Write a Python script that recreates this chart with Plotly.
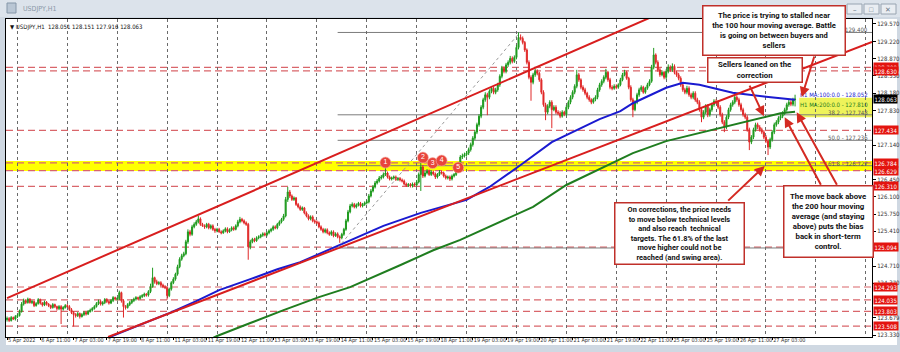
import plotly.graph_objects as go

# ---------------- DATA ----------------
open0 = 123.64
closes = [
    123.66, 123.62, 123.68, 123.65, 123.70,
    123.72, 123.80, 123.95, 124.02, 123.98, 124.05, 123.98, 124.00, 123.92, 123.96, 124.04, 123.97, 123.93, 123.99, 123.95, 123.92, 123.88, 123.94, 123.90, 123.86, 123.90, 123.85, 123.88, 123.92,
    123.90, 123.84, 123.78, 123.74, 123.72, 123.76, 123.70, 123.74, 123.78, 123.75, 123.80, 123.83, 123.86, 123.90, 123.96, 124.00, 123.95, 123.98, 124.04, 124.00, 123.97, 124.02, 124.08, 124.05,
    124.06, 124.18, 124.02, 123.90, 123.88, 123.94, 123.98, 124.02, 124.05, 124.08, 124.06, 124.10, 124.12, 124.15, 124.13, 124.20, 124.30, 124.48, 124.40, 124.36, 124.38, 124.33, 124.30, 124.28,
    124.12, 124.25, 124.38, 124.45, 124.55, 124.70, 124.85, 124.92, 124.96, 125.20, 125.40, 125.35, 125.50, 125.55, 125.60, 125.66, 125.55, 125.52, 125.50, 125.55, 125.48, 125.52, 125.45, 125.42,
    125.45, 125.40, 125.38, 125.42, 125.46, 125.40, 125.44, 125.48, 125.45, 125.52, 125.60, 125.65, 125.62, 125.58, 125.55, 125.10, 125.20, 125.25, 125.22, 125.28, 125.30, 125.33, 125.36, 125.34,
    125.38, 125.42, 125.45, 125.50, 125.48, 125.55, 125.60, 125.65, 125.72, 126.05, 126.20, 126.12, 126.05, 126.08, 125.95, 125.90, 125.85, 125.88, 125.78, 125.72, 125.66, 125.70, 125.62, 125.60,
    125.58, 125.50, 125.45, 125.40, 125.44, 125.38, 125.35, 125.40, 125.32, 125.36, 125.30, 125.28, 125.35, 125.45, 125.62, 125.80, 125.92, 125.95, 125.90, 125.94, 125.97, 125.92, 125.95, 125.98,
    126.00, 126.12, 126.22, 126.30, 126.38, 126.42, 126.48, 126.50, 126.55, 126.58, 126.50, 126.46, 126.48, 126.50, 126.45, 126.47, 126.44, 126.42, 126.36, 126.33, 126.35, 126.32, 126.36, 126.34,
    126.40, 126.55, 126.70, 126.52, 126.58, 126.62, 126.55, 126.60, 126.56, 126.50, 126.55, 126.60, 126.58, 126.52, 126.48, 126.50, 126.46, 126.52, 126.55, 126.62, 126.72, 126.90, 126.92, 126.95,
    126.98, 127.05, 127.15, 127.28, 127.40, 127.55, 127.72, 127.90, 128.05, 128.15, 128.10, 128.22, 128.28, 128.20, 128.25, 128.35, 128.52, 128.68, 128.62, 128.75, 128.80, 128.88, 128.82, 128.90,
    129.10, 129.30, 129.28, 129.20, 129.05, 128.80, 128.50, 128.40, 128.55, 128.62, 128.58, 128.45, 128.20, 127.95, 127.80, 127.92, 128.00, 127.85, 127.90, 127.80, 127.78, 127.72, 127.80, 127.76,
    127.90, 128.00, 128.10, 128.20, 128.32, 128.55, 128.45, 128.30, 128.25, 128.18, 128.10, 128.05, 128.00, 128.06, 128.10, 128.25, 128.35, 128.42, 128.50, 128.60, 128.45, 128.30, 128.28, 128.32,
    128.30, 128.35, 128.45, 128.55, 128.60, 128.48, 128.30, 128.05, 127.85, 128.00, 128.15, 128.25, 128.30, 128.20, 128.28, 128.35, 128.42, 128.70, 128.95, 128.80, 128.65, 128.55, 128.60, 128.50,
    128.62, 128.70, 128.65, 128.72, 128.60, 128.55, 128.48, 128.35, 128.25, 128.20, 128.28, 128.15, 128.10, 128.18, 128.05, 128.00, 127.85, 127.70, 127.80, 127.92, 127.75, 127.85, 127.95, 128.02,
    128.00, 127.90, 127.75, 127.60, 127.50, 127.70, 127.85, 127.95, 128.00, 128.10, 128.05, 127.95, 127.85, 127.75, 127.70, 127.45, 127.20, 127.30, 127.45, 127.55, 127.50, 127.45, 127.40, 127.30,
    127.22, 127.10, 127.25, 127.40, 127.55, 127.60, 127.68, 127.72, 127.78, 127.85, 127.95, 128.00, 127.96, 128.051, 128.063,
]
highs = [
    123.70, 123.69, 123.71, 123.70, 123.73,
    123.75, 123.84, 123.99, 124.06, 124.05, 124.08, 124.07, 124.03, 124.02, 123.99, 124.07, 124.06, 123.99, 124.02, 124.01, 123.97, 123.94, 123.97, 123.96, 123.92, 123.93, 123.93, 123.91, 123.95,
    123.95, 123.93, 123.87, 123.81, 123.77, 123.79, 123.78, 123.77, 123.81, 123.80, 123.83, 123.86, 123.89, 123.93, 123.99, 124.04, 124.03, 124.01, 124.07, 124.07, 124.03, 124.05, 124.11, 124.10,
    124.09, 124.22, 124.20, 124.05, 123.93, 123.97, 124.01, 124.05, 124.08, 124.11, 124.10, 124.13, 124.15, 124.18, 124.17, 124.23, 124.36, 124.68, 124.50, 124.44, 124.41, 124.41, 124.36, 124.33,
    124.31, 124.28, 124.41, 124.49, 124.58, 124.74, 124.89, 124.96, 125.00, 125.24, 125.45, 125.44, 125.54, 125.59, 125.64, 125.72, 125.69, 125.58, 125.55, 125.58, 125.58, 125.55, 125.55, 125.48,
    125.48, 125.48, 125.43, 125.45, 125.49, 125.49, 125.47, 125.51, 125.51, 125.55, 125.64, 125.70, 125.68, 125.65, 125.61, 125.58, 125.24, 125.28, 125.28, 125.31, 125.33, 125.36, 125.39, 125.39,
    125.41, 125.45, 125.48, 125.53, 125.53, 125.58, 125.63, 125.68, 125.76, 126.10, 126.30, 126.24, 126.15, 126.11, 126.10, 125.98, 125.93, 125.91, 125.90, 125.81, 125.75, 125.73, 125.73, 125.65,
    125.63, 125.61, 125.53, 125.48, 125.47, 125.47, 125.41, 125.43, 125.43, 125.39, 125.39, 125.33, 125.38, 125.48, 125.66, 125.84, 125.96, 125.99, 125.98, 125.97, 126.00, 126.00, 125.98, 126.01,
    126.04, 126.16, 126.26, 126.34, 126.42, 126.46, 126.52, 126.54, 126.59, 126.68, 126.61, 126.53, 126.51, 126.53, 126.53, 126.50, 126.50, 126.47, 126.45, 126.39, 126.38, 126.38, 126.39, 126.39,
    126.44, 126.59, 126.86, 126.74, 126.62, 126.66, 126.65, 126.64, 126.63, 126.59, 126.58, 126.64, 126.63, 126.61, 126.55, 126.53, 126.53, 126.55, 126.58, 126.65, 126.76, 126.94, 126.97, 126.99,
    127.02, 127.09, 127.19, 127.32, 127.44, 127.59, 127.76, 127.94, 128.09, 128.20, 128.19, 128.26, 128.32, 128.31, 128.29, 128.39, 128.56, 128.73, 128.72, 128.79, 128.84, 128.93, 128.92, 128.94,
    129.15, 129.40, 129.36, 129.32, 129.23, 129.08, 128.84, 128.54, 128.59, 128.67, 128.66, 128.61, 128.48, 128.24, 127.99, 127.96, 128.04, 128.04, 127.94, 127.94, 127.84, 127.82, 127.84, 127.83,
    127.94, 128.04, 128.14, 128.24, 128.36, 128.65, 128.59, 128.48, 128.34, 128.29, 128.21, 128.14, 128.08, 128.09, 128.14, 128.29, 128.39, 128.46, 128.54, 128.67, 128.63, 128.49, 128.34, 128.36,
    128.36, 128.38, 128.49, 128.59, 128.65, 128.63, 128.51, 128.34, 128.09, 128.04, 128.19, 128.29, 128.34, 128.33, 128.31, 128.39, 128.46, 128.75, 129.09, 128.98, 128.84, 128.69, 128.64, 128.63,
    128.66, 128.76, 128.74, 128.78, 128.76, 128.64, 128.59, 128.52, 128.39, 128.29, 128.33, 128.32, 128.19, 128.22, 128.22, 128.09, 128.04, 127.89, 127.84, 127.96, 127.96, 127.89, 127.99, 128.06,
    128.06, 128.04, 127.94, 127.79, 127.64, 127.74, 127.89, 127.99, 128.04, 128.15, 128.14, 128.09, 127.99, 127.89, 127.79, 127.74, 127.49, 127.34, 127.49, 127.59, 127.59, 127.54, 127.49, 127.44,
    127.34, 127.26, 127.29, 127.44, 127.59, 127.64, 127.72, 127.76, 127.82, 127.89, 127.99, 128.05, 128.04, 128.09, 128.151,
]
lows = [
    123.60, 123.59, 123.60, 123.63, 123.62,
    123.67, 123.70, 123.78, 123.92, 123.95, 123.96, 123.96, 123.95, 123.89, 123.90, 123.94, 123.94, 123.90, 123.91, 123.92, 123.89, 123.85, 123.86, 123.87, 123.82, 123.83, 123.55, 123.82, 123.86,
    123.88, 123.81, 123.75, 123.50, 123.68, 123.69, 123.66, 123.68, 123.71, 123.72, 123.73, 123.78, 123.80, 123.84, 123.88, 123.93, 123.92, 123.92, 123.95, 123.97, 123.94, 123.95, 123.99, 124.02,
    124.02, 124.03, 123.98, 123.68, 123.84, 123.86, 123.91, 123.95, 123.99, 124.02, 124.03, 124.04, 124.07, 124.09, 124.10, 124.10, 124.17, 124.28, 124.36, 124.33, 124.33, 124.30, 124.27, 124.25,
    124.04, 124.09, 124.22, 124.35, 124.42, 124.52, 124.67, 124.82, 124.89, 124.93, 125.16, 125.31, 125.32, 125.47, 125.52, 125.57, 125.52, 125.50, 125.46, 125.47, 125.45, 125.45, 125.42, 125.38,
    125.39, 125.38, 125.35, 125.36, 125.39, 125.37, 125.38, 125.41, 125.42, 125.43, 125.49, 125.57, 125.59, 125.55, 125.52, 124.84, 125.05, 125.17, 125.19, 125.20, 125.25, 125.27, 125.30, 125.31,
    125.31, 125.35, 125.39, 125.42, 125.45, 125.45, 125.52, 125.57, 125.62, 125.69, 126.00, 126.08, 126.02, 126.02, 125.92, 125.87, 125.82, 125.82, 125.75, 125.69, 125.63, 125.63, 125.59, 125.56,
    125.55, 125.47, 125.42, 125.37, 125.37, 125.35, 125.32, 125.32, 125.29, 125.30, 125.27, 125.18, 125.25, 125.32, 125.42, 125.59, 125.77, 125.89, 125.87, 125.87, 125.91, 125.89, 125.89, 125.92,
    125.95, 125.97, 126.09, 126.19, 126.27, 126.35, 126.39, 126.45, 126.47, 126.52, 126.47, 126.43, 126.43, 126.45, 126.42, 126.42, 126.41, 126.39, 126.33, 126.30, 126.30, 126.29, 126.29, 126.31,
    126.31, 126.37, 126.22, 126.48, 126.49, 126.55, 126.52, 126.52, 126.53, 126.46, 126.47, 126.52, 126.55, 126.49, 126.45, 126.45, 126.42, 126.43, 126.49, 126.52, 126.59, 126.69, 126.86, 126.89,
    126.91, 126.94, 127.01, 127.11, 127.24, 127.36, 127.51, 127.68, 127.86, 128.01, 127.74, 128.06, 128.18, 128.16, 128.16, 128.21, 128.31, 128.48, 128.58, 128.58, 128.71, 128.76, 128.78, 128.79,
    128.86, 129.06, 129.24, 129.16, 129.01, 128.76, 128.46, 128.03, 128.36, 128.51, 128.54, 128.41, 128.16, 127.91, 127.64, 127.76, 127.88, 127.48, 127.82, 127.76, 127.74, 127.68, 127.69, 127.72,
    127.72, 127.86, 127.96, 128.06, 128.16, 128.28, 128.41, 128.26, 128.21, 128.14, 128.06, 128.01, 127.96, 127.97, 128.02, 128.06, 128.21, 128.31, 128.38, 128.46, 128.41, 128.26, 128.24, 128.25,
    128.26, 128.27, 128.32, 128.42, 128.52, 128.45, 128.26, 128.01, 127.70, 127.82, 127.96, 128.11, 128.21, 128.17, 128.17, 128.25, 128.32, 128.39, 128.66, 128.76, 128.61, 128.51, 128.52, 128.46,
    128.46, 128.58, 128.61, 128.61, 128.56, 128.51, 128.44, 128.31, 128.21, 128.16, 128.16, 128.11, 128.06, 128.06, 128.01, 127.96, 127.81, 127.60, 127.66, 127.76, 127.70, 127.71, 127.81, 127.91,
    127.96, 127.86, 127.71, 127.56, 127.40, 127.46, 127.66, 127.81, 127.91, 127.96, 128.01, 127.91, 127.81, 127.71, 127.66, 127.41, 127.04, 127.16, 127.26, 127.41, 127.46, 127.41, 127.36, 127.26,
    127.18, 126.94, 127.06, 127.21, 127.36, 127.51, 127.56, 127.64, 127.68, 127.74, 127.81, 127.91, 127.92, 127.92, 127.916,
]

time_tick_idx = [0, 16, 32, 48, 64, 80, 96, 112, 128, 144, 160, 176, 192, 208, 224, 240,
                 256, 272, 288, 304, 320, 336, 352, 368]
time_tick_text = ["5 Apr 2022", "6 Apr 11:00", "7 Apr 03:00", "7 Apr 19:00", "8 Apr 11:00",
                  "11 Apr 03:00", "11 Apr 19:00", "12 Apr 11:00", "13 Apr 03:00", "13 Apr 19:00",
                  "14 Apr 11:00", "15 Apr 03:00", "15 Apr 19:00", "18 Apr 11:00", "19 Apr 03:00",
                  "19 Apr 19:00", "20 Apr 11:00", "21 Apr 03:00", "21 Apr 19:00", "22 Apr 11:00",
                  "25 Apr 03:00", "25 Apr 19:00", "26 Apr 11:00", "27 Apr 03:00"]
day_start_idx = [5, 29, 53, 77, 101, 125, 149, 173, 197, 221, 245, 269, 293, 317, 341, 365, 389, 413]
price_ticks = [129.570, 129.220, 128.870, 128.530, 128.180, 127.830, 127.140, 126.450,
               126.100, 125.750, 125.410, 124.710, 124.370, 123.679, 123.330]

ma100_idx = [50, 64, 78, 91, 102, 117, 130, 141, 157, 170, 181, 199, 213, 221, 232, 247, 262,
             279, 285, 295, 301, 317, 325, 333, 349, 365, 379]
ma100_val = [123.30, 123.53, 123.77, 124.01, 124.23, 124.45, 124.65, 124.79, 125.08, 125.32,
             125.52, 125.78, 125.94, 126.04, 126.30, 126.74, 127.20, 127.54, 127.66, 127.82,
             127.98, 128.29, 128.39, 128.35, 128.19, 128.11, 128.052]
ma200_idx = [95, 101, 117, 133, 150, 165, 189, 205, 218, 237, 253, 269, 285, 301, 317, 333,
             349, 362, 372, 379]
ma200_val = [123.19, 123.31, 123.57, 123.83, 124.09, 124.29, 124.73, 125.03, 125.24, 125.60,
             125.90, 126.34, 126.66, 126.98, 127.22, 127.38, 127.54, 127.68, 127.78, 127.81]

upper_channel_idx = [0, 310]
upper_channel_val = [124.07, 129.71]
lower_channel_idx = [48.6, 416]
lower_channel_val = [123.29, 129.21]

red_levels = [128.700, 128.630, 127.434, 126.784, 126.629, 126.310, 125.094,
              124.293, 124.035, 123.803, 123.508]
fib_names = ["0.0", "38.2", "50.0", "61.8", "100.0"]
fib_levels = [129.400, 127.748, 127.236, 126.727, 125.076]
fib_start_idx = 159
fib_swing_idx = [159, 246.6]
fib_swing_val = [125.076, 129.400]

swing_band = [126.62, 126.82]
ma_zone_idx = [381, 416]
ma_zone_val = [127.70, 128.09]

touch_idx = [182, 200, 204.7, 209, 217]
touch_val = [126.79, 126.89, 126.78, 126.83, 126.69]
touch_lbl = ["1", "2", "3", "4", "5"]

last_price = 128.063
ma100_last = 128.052
ma200_last = 127.810
ohlc_text = "128.051 128.151 127.916 128.063"

# ---------------- derived ----------------
bar_idx = list(range(len(closes)))
opens = [open0] + closes[:-1]
highs = [max(h, o, c) for h, o, c in zip(highs, opens, closes)]
lows = [min(l, o, c) for l, o, c in zip(lows, opens, closes)]

# layout geometry (pixels)
W, H = 900, 352
L, R, T, B = 6, 872, 19, 337
def PX(x): return (x - L) / (R - L)
def PY(y): return (B - y) / (B - T)

FONT_AX = "Liberation Sans Narrow, DejaVu Sans Condensed, Arial Narrow, Liberation Sans, sans-serif"
FONT_BOLD = "Roboto, Liberation Sans, Arial, sans-serif"
RED = "#d42a22"

fig = go.Figure()

fig.add_trace(go.Candlestick(
    x=bar_idx, open=opens, high=highs, low=lows, close=closes,
    increasing=dict(line=dict(color="#1e9a1e", width=1), fillcolor="#1e9a1e"),
    decreasing=dict(line=dict(color="#e02828", width=1), fillcolor="#e02828"),
    whiskerwidth=0, hoverinfo="skip", showlegend=False))

fig.add_trace(go.Scatter(x=ma100_idx, y=ma100_val, mode="lines",
                         line=dict(color="#1a1ad0", width=2), hoverinfo="skip", showlegend=False))
fig.add_trace(go.Scatter(x=ma200_idx, y=ma200_val, mode="lines",
                         line=dict(color="#1f7d1f", width=2), hoverinfo="skip", showlegend=False))
fig.add_trace(go.Scatter(x=upper_channel_idx, y=upper_channel_val, mode="lines",
                         line=dict(color="#d81e1e", width=2), hoverinfo="skip", showlegend=False))
fig.add_trace(go.Scatter(x=lower_channel_idx, y=lower_channel_val, mode="lines",
                         line=dict(color="#d81e1e", width=2), hoverinfo="skip", showlegend=False))
fig.add_trace(go.Scatter(x=fib_swing_idx, y=fib_swing_val, mode="lines",
                         line=dict(color="#9a9a9a", width=1, dash="dot"), hoverinfo="skip", showlegend=False))
fig.add_trace(go.Scatter(x=touch_idx, y=touch_val, mode="markers+text", text=touch_lbl,
                         textposition="middle center",
                         textfont=dict(color="white", size=7, family="Liberation Sans"),
                         marker=dict(size=11, color="#e8453c", line=dict(color="#f7b0a8", width=0.6)),
                         hoverinfo="skip", showlegend=False))

shapes = []
# window chrome
shapes.append(dict(type="rect", xref="paper", yref="paper", x0=PX(6), x1=PX(897), y0=PY(345), y1=PY(19),
                   fillcolor="white", line_width=0, layer="below"))
shapes.append(dict(type="rect", xref="paper", yref="paper", x0=PX(0), x1=PX(900), y0=PY(17), y1=PY(0),
                   fillcolor="#dce3eb", line_width=0, layer="below"))
shapes.append(dict(type="rect", xref="paper", yref="paper", x0=PX(7), x1=PX(16), y0=PY(13), y1=PY(3),
                   fillcolor="#b9c6d4", line=dict(color="#8596a8", width=1), layer="above"))
for bx in [(847, 862), (864, 879), (881, 896)]:
    shapes.append(dict(type="rect", xref="paper", yref="paper", x0=PX(bx[0]), x1=PX(bx[1]),
                       y0=PY(14), y1=PY(4), fillcolor="#e9edf2",
                       line=dict(color="#98a4b1", width=1), layer="above"))
# swing band and MA zone
shapes.append(dict(type="rect", xref="paper", yref="y", x0=0, x1=1, y0=swing_band[0], y1=swing_band[1],
                   fillcolor="#ffff00", line_width=0, layer="below"))
shapes.append(dict(type="rect", xref="x", yref="y", x0=ma_zone_idx[0], x1=ma_zone_idx[1],
                   y0=ma_zone_val[0], y1=ma_zone_val[1], fillcolor="#eef35a", line_width=0, layer="below"))
for lv in red_levels:
    shapes.append(dict(type="line", xref="paper", yref="y", x0=0, x1=1, y0=lv, y1=lv,
                       line=dict(color="#d9666b", width=1.2, dash="7px,4px"), layer="below"))
for lv in fib_levels:
    shapes.append(dict(type="line", xref="x", yref="y", x0=fib_start_idx, x1=416, y0=lv, y1=lv,
                       line=dict(color="#7c7c7c", width=1), layer="below"))

ann = []
# window title + top-left OHLC text
ann.append(dict(x=PX(21), y=PY(8.5), xref="paper", yref="paper", text="USDJPY,H1", showarrow=False,
                xanchor="left", yanchor="middle", font=dict(size=7, color="#8b98a7", family=FONT_AX)))
for gx, g in [(854.5, "–"), (871.5, "□"), (888.5, "✕")]:
    ann.append(dict(x=PX(gx), y=PY(9), xref="paper", yref="paper", text=g, showarrow=False,
                    xanchor="center", yanchor="middle", font=dict(size=7, color="#6b7886")))
ann.append(dict(x=PX(8), y=PY(21), xref="paper", yref="paper",
                text="▼ USDJPY,H1  " + ohlc_text, showarrow=False,
                xanchor="left", yanchor="top", font=dict(size=6, color="#111", family=FONT_AX)))

# right axis price labels
for lv in red_levels:
    ann.append(dict(x=1, y=lv, xref="paper", yref="y", text=f"{lv:.3f}", showarrow=False,
                    xanchor="left", yanchor="middle", xshift=1, bgcolor="#e3140f", borderpad=0.5,
                    font=dict(size=6, color="white", family=FONT_AX)))
ann.append(dict(x=1, y=last_price, xref="paper", yref="y", text=f"{last_price:.3f}", showarrow=False,
                xanchor="left", yanchor="middle", xshift=1, bgcolor="#000000", borderpad=0.5,
                font=dict(size=6, color="white", family=FONT_AX)))

# level texts
for nm, lv in zip(fib_names[:4], fib_levels[:4]):
    ann.append(dict(x=PX(870), y=lv, xref="paper", yref="y", text=f"{nm} - {lv:.3f}", showarrow=False,
                    xanchor="right", yanchor="bottom", yshift=-3,
                    font=dict(size=6, color="#555", family=FONT_AX)))
ann.append(dict(x=PX(870), y=ma100_last, xref="paper", yref="y", text=f"H1 MA:100:0.0 - {ma100_last:.3f}",
                showarrow=False, xanchor="right", yanchor="bottom", yshift=0,
                font=dict(size=6, color="#1a1ad0", family=FONT_AX)))
ann.append(dict(x=PX(870), y=ma200_last, xref="paper", yref="y", text=f"H1 MA:200:0.0 - {ma200_last:.3f}",
                showarrow=False, xanchor="right", yanchor="bottom", yshift=2,
                font=dict(size=6, color="#1f7d1f", family=FONT_AX)))

# callout boxes
def callout(cx, cy, w, h, text, size=7.6):
    return dict(x=PX(cx), y=PY(cy), xref="paper", yref="paper", text=text, showarrow=False,
                xanchor="center", yanchor="middle", width=w, height=h, align="center",
                bgcolor="white", bordercolor="#c0302a", borderwidth=1.5, borderpad=1,
                font=dict(size=size, color="#111", family=FONT_BOLD))

ann.append(callout(773.5, 30, 139, 46,
                   "<b>The price is trying to stalled near<br>the 100 hour moving average. Battle<br>"
                   "is going on between buyers and<br>sellers</b>", size=7.6))
ann.append(callout(754.5, 70, 91, 21, "<b>Sellers leaned on the<br>correction</b>", size=7.8))
ann.append(callout(679, 233, 126, 58,
                   "<b>On corrections, the price needs<br>to move below technical levels<br>"
                   "and also reach  technical<br>targets. The 61.8% of the last<br>"
                   "move higher could not be<br>reached (and swing area).</b>", size=7.4))
ann.append(callout(828, 221, 86, 68,
                   "<b>The move back above<br>the 200 hour moving<br>average (and staying<br>"
                   "above) puts the bias<br>back in short-term<br>control.</b>", size=7.8))

# arrows (tip at data point, tail offset in pixels)
arrows = [
    (382.2, 128.105, 13, -42),
    (364.0, 127.72, -15, -32),
    (364.4, 126.72, -38, 36),
    (374.0, 127.70, 37, 69),
    (379.8, 127.80, 41, 74),
]
for ix, pv, axp, ayp in arrows:
    ann.append(dict(x=ix, y=pv, xref="x", yref="y", text="", showarrow=True, ax=axp, ay=ayp,
                    arrowhead=2, arrowsize=1, arrowwidth=2, arrowcolor=RED))

fig.update_layout(
    width=W, height=H, autosize=False,
    margin=dict(l=L, r=W - R, t=T, b=H - B, pad=0, autoexpand=False),
    paper_bgcolor="#cfd8e2", plot_bgcolor="rgba(0,0,0,0)",
    showlegend=False, shapes=shapes, annotations=ann,
    xaxis=dict(range=[-0.5, 416], type="linear", rangeslider=dict(visible=False), automargin=False,
               tickmode="array", tickvals=time_tick_idx, ticktext=time_tick_text, tickangle=0,
               ticks="outside", ticklen=2, tickcolor="#000", ticklabelposition="outside right",
               ticklabelstandoff=-3,
               tickfont=dict(size=5.5, color="#333", family=FONT_AX),
               showgrid=False, zeroline=False, showline=True, linecolor="#000", linewidth=1, mirror=True,
               minor=dict(tickmode="array", tickvals=day_start_idx, showgrid=True,
                          gridcolor="#6a6a6a", griddash="dot", gridwidth=1, ticks="")),
    yaxis=dict(range=[123.29, 129.67], side="right", tickmode="array", tickvals=price_ticks,
               automargin=False,
               tickformat=".3f", ticks="outside", ticklen=3, tickcolor="#000",
               tickfont=dict(size=6, color="#333", family=FONT_AX),
               showgrid=False, zeroline=False, showline=True, linecolor="#000", linewidth=1, mirror=True),
)

fig.write_html("out.html", config={"displayModeBar": False})
